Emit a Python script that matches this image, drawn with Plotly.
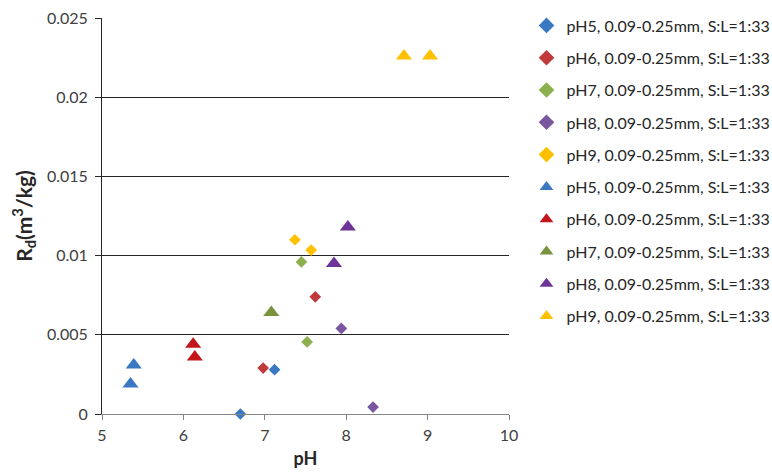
import plotly.graph_objects as go

# Diamonds and triangles for each pH series (pH, Rd in m3/kg)
labels = ["pH5, 0.09-0.25mm, S:L=1:33", "pH6, 0.09-0.25mm, S:L=1:33",
          "pH7, 0.09-0.25mm, S:L=1:33", "pH8, 0.09-0.25mm, S:L=1:33",
          "pH9, 0.09-0.25mm, S:L=1:33"]

diamond_x = [[6.70, 7.12], [6.98, 7.62], [7.45, 7.52], [7.94, 8.33], [7.37, 7.57]]
diamond_y = [[0.0, 0.0028], [0.0029, 0.0074], [0.0096, 0.00455], [0.0054, 0.00044], [0.0110, 0.01035]]

triangle_x = [[5.39, 5.35], [6.12, 6.14], [7.08], [8.02, 7.85], [8.71, 9.03]]
triangle_y = [[0.0031, 0.0019], [0.0044, 0.0036], [0.0064], [0.0118, 0.0095], [0.0226, 0.0226]]

diamond_colors = ["#3a78c2", "#c0393b", "#8db04f", "#7856a0", "#ffc000"]
triangle_colors = ["#3a78c2", "#c3161c", "#77933c", "#6f3497", "#ffc000"]

FONT = "Lato"

fig = go.Figure()
for i, name in enumerate(labels):
    fig.add_trace(go.Scatter(
        x=diamond_x[i], y=diamond_y[i], mode="markers", name=name,
        legendgroup=f"d{i}", cliponaxis=False,
        marker=dict(symbol="diamond", size=9, color=diamond_colors[i]),
    ))
for i, name in enumerate(labels):
    fig.add_trace(go.Scatter(
        x=triangle_x[i], y=triangle_y[i], mode="markers", name=name,
        legendgroup=f"t{i}", cliponaxis=False,
        marker=dict(symbol="triangle-up", size=14, color=triangle_colors[i]),
    ))

fig.update_layout(
    width=772, height=472,
    margin=dict(l=102, r=263, t=18, b=58),
    plot_bgcolor="white", paper_bgcolor="white",
    font=dict(family=FONT, size=16, color="#404040"),
    showlegend=True,
    legend=dict(xref="container", yref="container", x=0.682, y=0.982,
                xanchor="left", yanchor="top", maxheight=470,
                font=dict(family=FONT, size=16, color="#262626"),
                tracegroupgap=8.5, itemsizing="constant"),
    xaxis=dict(range=[5, 10], dtick=1, showgrid=False, zeroline=False,
               showline=True, linecolor="#868686", linewidth=1,
               ticks="outside", ticklen=5, tickcolor="#868686",
               tickfont=dict(size=16), automargin=False, ticklabelstandoff=2,
               title=dict(text="<b>pH</b>", font=dict(family=FONT, size=18, color="#262626"), standoff=9)),
    yaxis=dict(range=[0, 0.025], dtick=0.005, showgrid=True, gridcolor="#262626", gridwidth=1,
               zeroline=False, showline=True, linecolor="#262626", linewidth=1,
               ticks="outside", ticklen=6, tickcolor="#262626",
               tickfont=dict(size=16), automargin=False, ticklabelstandoff=4,
               title=dict(text="<b>R<sub>d</sub>(m<sup>3</sup>/kg)</b>",
                          font=dict(family=FONT, size=21, color="#262626"), standoff=8)),
)

fig.write_html("out.html")
